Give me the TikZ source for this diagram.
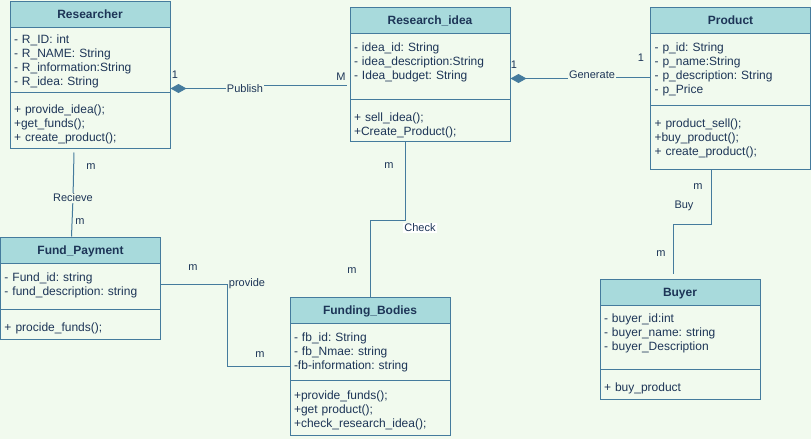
\documentclass[tikz,border=0pt]{standalone}
\usepackage{fontspec}
\setmainfont{Liberation Sans}
\usetikzlibrary{arrows.meta}
\frenchspacing

\definecolor{umlbg}{HTML}{F1FAEE}
\definecolor{umlhead}{HTML}{A8DADC}
\definecolor{umlline}{HTML}{457B9D}
\definecolor{umltext}{HTML}{1D3557}

\begin{document}
\begin{tikzpicture}[x=1pt, y=-1pt,
    classhead/.style={draw=umlline, line width=1pt, fill=umlhead, text=umltext, font=\fontsize{12}{14}\selectfont\bfseries, minimum width=160pt, minimum height=26pt, inner sep=0pt, text height=11.3pt, text depth=2.7pt},
    classbody/.style 2 args={draw=umlline, line width=1pt, fill=umlbg, text=umltext, font=\fontsize{12}{14}\selectfont, text width=152pt, inner xsep=4pt, inner ysep=0pt, align=left, minimum height=#1, text height=#2, text depth=#1-#2},
    lbl/.style={text=umltext, font=\fontsize{11}{13}\selectfont, inner sep=1pt},
    assoc/.style={draw=umlline, line width=1pt},
    owns/.style={assoc, {Diamond[length=16pt, width=9pt]}-}]
    \fill[umlbg] (0, 0) rectangle (811, 439);

    \node[classhead] (researcher) at (90, 14) {Researcher};
    \node[classbody={65pt}{16pt}] (researcher-attr) at (90, 59.5) {- R\_ID: int\\- R\_NAME: String\\- R\_information:String\\- R\_idea: String};
    \node[classbody={56pt}{21pt}] (researcher-ops) at (90, 120) {+ provide\_idea();\\+get\_funds();\\+ create\_product();};

    \node[classhead] (idea) at (430, 20) {Research\_idea};
    \node[classbody={66pt}{18pt}] (idea-attr) at (430, 66) {- idea\_id: String\\- idea\_description:String\\- Idea\_budget: String};
    \node[classbody={42pt}{22pt}] (idea-ops) at (430, 120) {+ sell\_idea();\\+Create\_Product();};

    \node[classhead] (product) at (730.5, 20) {Product};
    \node[classbody={72pt}{18pt}] (product-attr) at (730.5, 69) {- p\_id: String\\- p\_name:String\\- p\_description: String\\- p\_Price};
    \node[classbody={64pt}{22pt}] (product-ops) at (730.5, 137) {+ product\_sell();\\+buy\_product();\\+ create\_product();};

    \node[classhead] (fund) at (80.5, 250) {Fund\_Payment};
    \node[classbody={46pt}{18pt}] (fund-attr) at (80.5, 286) {- Fund\_id: string\\- fund\_description: string};
    \node[classbody={30pt}{22pt}] (fund-ops) at (80.5, 324) {+ procide\_funds();};

    \node[classhead] (funding) at (370, 310) {Funding\_Bodies};
    \node[classbody={57pt}{18pt}] (funding-attr) at (370, 351.5) {- fb\_id: String\\- fb\_Nmae: string\\-fb-information: string};
    \node[classbody={55pt}{19pt}] (funding-ops) at (370, 407.5) {+provide\_funds();\\+get product();\\+check\_research\_idea();};

    \node[classhead] (buyer) at (680, 292) {Buyer};
    \node[classbody={64pt}{17pt}] (buyer-attr) at (680, 337) {- buyer\_id:int\\- buyer\_name: string\\- buyer\_Description};
    \node[classbody={30pt}{22pt}] (buyer-ops) at (680, 384) {+ buy\_product};

    % Publish
    \node[lbl] (publish) at (245, 89) {Publish};
    \coordinate (pub-a) at ([yshift=4pt]researcher-attr.south east);
    \coordinate (pub-b) at ([yshift=14pt]idea-attr.south west);
    \draw[owns] (pub-a) to (pub-a -| publish.west);
    \draw[assoc, shorten >=3pt] (publish.east |- pub-b) to (pub-b);
    \node[lbl] (pub-one) at (175, 75) {1};
    \node[lbl] (pub-many) at (341, 77) {M};

    % Generate
    \node[lbl] (generate) at (592, 75) {Generate};
    \coordinate (gen-a) at ([yshift=21pt]idea-attr.south east);
    \coordinate (gen-b) at ([yshift=28pt]product-attr.south west);
    \draw[owns] (gen-a) to (gen-a -| generate.west);
    \draw[assoc] (generate.east |- gen-b) to (gen-b);
    \node[lbl] (gen-one) at (514, 65) {1};
    \node[lbl] (gen-other) at (641, 58) {1};

    % Check
    \draw[assoc] ([xshift=-25pt]idea-ops.south) -- ++(0, 79) -| (funding.north);
    \node[lbl, fill=white] (check) at (420, 228) {Check};
    \node[lbl] (check-top) at (389, 166) {m};
    \node[lbl] (check-bottom) at (352, 271) {m};

    % Recieve
    \node[lbl] (recieve) at (73, 198) {Recieve};
    \draw[assoc] ([xshift=-16pt, yshift=-4pt]researcher-ops.south) -- (recieve) -- ([xshift=-9pt]fund.north);
    \node[lbl] (recieve-top) at (91, 167) {m};
    \node[lbl] (recieve-bottom) at (80, 222) {m};

    % provide
    \draw[assoc] ([yshift=2pt]fund-attr.east) -- ++(66, 0) |- ([yshift=14pt]funding-attr.south west);
    \node[lbl] (provide) at (247, 284) {provide};
    \node[lbl] (provide-left) at (193, 268) {m};
    \node[lbl] (provide-right) at (260, 355) {m};

    % Buy
    \draw[assoc] ([xshift=-19pt]product-ops.south) -- ++(0, 55) -| ([xshift=-7pt, yshift=5pt]buyer.north);
    \node[lbl] (buy) at (684, 206) {Buy};
    \node[lbl] (buy-top) at (698, 187) {m};
    \node[lbl] (buy-bottom) at (661, 254) {m};
\end{tikzpicture}
\end{document}
